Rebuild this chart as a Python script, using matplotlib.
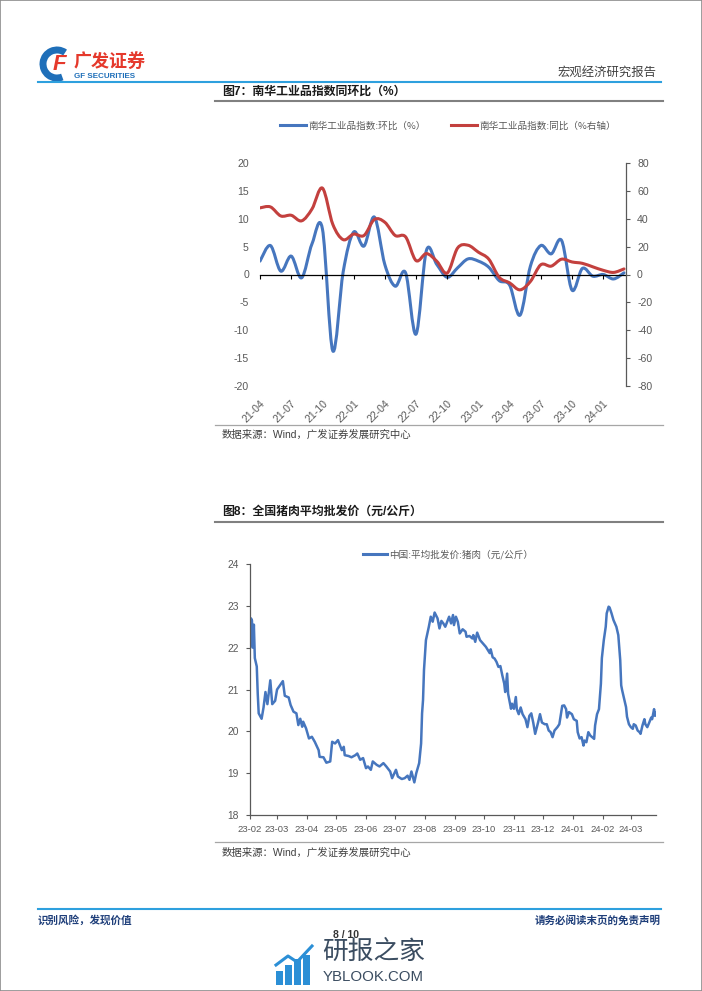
import numpy as np
import pandas as pd
import matplotlib
matplotlib.use('Agg')
import matplotlib.pyplot as plt
import matplotlib.dates as mdates
from matplotlib.path import Path
from matplotlib.patches import PathPatch, Rectangle, Arc
from matplotlib.lines import Line2D

plt.rcParams['font.family'] = ['Liberation Sans', 'Noto Sans CJK SC', 'DejaVu Sans']
plt.rcParams['axes.unicode_minus'] = False

# ---- chart 1 data: Nanhua industrial index, monthly ----
nh_months = ['21-04', '21-05', '21-06', '21-07', '21-08', '21-09', '21-10', '21-11', '21-12',
             '22-01', '22-02', '22-03', '22-04', '22-05', '22-06', '22-07', '22-08', '22-09',
             '22-10', '22-11', '22-12', '23-01', '23-02', '23-03', '23-04', '23-05', '23-06',
             '23-07', '23-08', '23-09', '23-10', '23-11', '23-12', '24-01', '24-02', '24-03']
nh_mom = [2.4, 5.2, 0.6, 3.3, -0.6, 5.5, 8.2, -13.7, 0.5, 7.6, 5.1, 10.3, 1.8, -2.1, 0.3, -10.7,
          4.3, 1.8, -0.5, 1.2, 2.8, 2.4, 1.3, -1.1, -1.9, -7.3, 1.5, 5.2, 3.7, 6.1, -2.8, 1.1,
          -0.3, 0.0, -0.8, 0.3]
nh_yoy = [47.8, 48.5, 42, 42.5, 38.5, 47, 62, 36, 25, 29, 28, 39.5, 37.5, 28, 27, 10, 15, 9.5,
          1, 19, 21, 16, 11, -2, -6, -11, -5, 7, 6, 11, 9, 8, 5.5, 3, 1.5, 4]
nh_ticklabels = ['21-04', '21-07', '21-10', '22-01', '22-04', '22-07', '22-10', '23-01',
                 '23-04', '23-07', '23-10', '24-01']

# ---- chart 2 data: pork wholesale price, yuan/kg ----
pork_dates = [
    '2023-02-01', '2023-02-02', '2023-02-03', '2023-02-04', '2023-02-05', '2023-02-06', '2023-02-08',
    '2023-02-09', '2023-02-10', '2023-02-13', '2023-02-15', '2023-02-17', '2023-02-19', '2023-02-22',
    '2023-02-24', '2023-02-27', '2023-03-01', '2023-03-04', '2023-03-07', '2023-03-09', '2023-03-13',
    '2023-03-15', '2023-03-18', '2023-03-21', '2023-03-23', '2023-03-25', '2023-03-27', '2023-03-28',
    '2023-03-31', '2023-04-03', '2023-04-06', '2023-04-09', '2023-04-13', '2023-04-14', '2023-04-18',
    '2023-04-21', '2023-04-25', '2023-04-27', '2023-04-30', '2023-05-03', '2023-05-05', '2023-05-07',
    '2023-05-09', '2023-05-10', '2023-05-14', '2023-05-17', '2023-05-21', '2023-05-23', '2023-05-26',
    '2023-05-29', '2023-06-01', '2023-06-03', '2023-06-06', '2023-06-08', '2023-06-12', '2023-06-15',
    '2023-06-19', '2023-06-22', '2023-06-26', '2023-06-28', '2023-07-02', '2023-07-04', '2023-07-08',
    '2023-07-11', '2023-07-14', '2023-07-16', '2023-07-18', '2023-07-21', '2023-07-23', '2023-07-26',
    '2023-07-28', '2023-07-29', '2023-07-30', '2023-07-31', '2023-08-02', '2023-08-05', '2023-08-07',
    '2023-08-09', '2023-08-11', '2023-08-14', '2023-08-16', '2023-08-18', '2023-08-20', '2023-08-22',
    '2023-08-24', '2023-08-26', '2023-08-28', '2023-08-30', '2023-08-31', '2023-09-02', '2023-09-04',
    '2023-09-06', '2023-09-09', '2023-09-12', '2023-09-13', '2023-09-16', '2023-09-19', '2023-09-20',
    '2023-09-22', '2023-09-24', '2023-09-27', '2023-10-03', '2023-10-07', '2023-10-08', '2023-10-10',
    '2023-10-12', '2023-10-14', '2023-10-16', '2023-10-18', '2023-10-20', '2023-10-22', '2023-10-23',
    '2023-10-25', '2023-10-26', '2023-10-29', '2023-10-30', '2023-11-01', '2023-11-03', '2023-11-04',
    '2023-11-06', '2023-11-08', '2023-11-10', '2023-11-13', '2023-11-15', '2023-11-17', '2023-11-19',
    '2023-11-21', '2023-11-23', '2023-11-26', '2023-11-28', '2023-11-30', '2023-12-03', '2023-12-05',
    '2023-12-07', '2023-12-09', '2023-12-11', '2023-12-13', '2023-12-16', '2023-12-18', '2023-12-21',
    '2023-12-23', '2023-12-25', '2023-12-26', '2023-12-28', '2023-12-31', '2024-01-02', '2024-01-05',
    '2024-01-06', '2024-01-08', '2024-01-10', '2024-01-12', '2024-01-13', '2024-01-15', '2024-01-17',
    '2024-01-19', '2024-01-21', '2024-01-23', '2024-01-24', '2024-01-26', '2024-01-28', '2024-01-30',
    '2024-01-31', '2024-02-02', '2024-02-04', '2024-02-05', '2024-02-07', '2024-02-08', '2024-02-10',
    '2024-02-12', '2024-02-15', '2024-02-17', '2024-02-19', '2024-02-20', '2024-02-21', '2024-02-23',
    '2024-02-25', '2024-02-26', '2024-02-28', '2024-03-01', '2024-03-03', '2024-03-04', '2024-03-06',
    '2024-03-08', '2024-03-10', '2024-03-11', '2024-03-13', '2024-03-15', '2024-03-16', '2024-03-18',
    '2024-03-20', '2024-03-22', '2024-03-23', '2024-03-25', '2024-03-26', '2024-03-27']
pork_price = [
    22.0, 22.7, 22.65, 22.0, 22.55, 21.75, 21.55, 20.9, 20.43, 20.3, 20.57, 20.94, 20.65, 21.22,
    20.65, 20.73, 21.0, 21.1, 21.2, 20.85, 20.81, 20.63, 20.47, 20.43, 20.15, 20.3, 20.11, 20.23,
    20.07, 19.83, 19.87, 19.75, 19.55, 19.39, 19.38, 19.25, 19.28, 19.75, 19.71, 19.79, 19.67, 19.55,
    19.63, 19.43, 19.41, 19.38, 19.43, 19.47, 19.32, 19.36, 19.12, 19.16, 19.08, 19.28, 19.2, 19.16,
    19.24, 19.16, 19.04, 18.88, 19.08, 18.92, 18.86, 18.88, 18.94, 18.84, 19.04, 18.78, 19.0, 19.24,
    19.71, 20.43, 20.75, 21.47, 22.18, 22.5, 22.74, 22.62, 22.84, 22.7, 22.46, 22.64, 22.58, 22.5,
    22.62, 22.74, 22.58, 22.78, 22.54, 22.74, 22.62, 22.34, 22.44, 22.38, 22.26, 22.28, 22.22, 22.3,
    22.14, 22.36, 22.18, 22.02, 21.87, 21.96, 21.77, 21.74, 21.66, 21.54, 21.56, 21.34, 21.14, 20.94,
    21.38, 20.9, 20.54, 20.66, 20.54, 20.82, 20.53, 20.41, 20.57, 20.41, 20.29, 20.1, 20.37, 20.43,
    20.21, 19.94, 20.21, 20.41, 20.21, 20.17, 20.17, 20.02, 19.98, 19.86, 20.02, 20.1, 20.17, 20.61,
    20.62, 20.53, 20.33, 20.46, 20.41, 20.29, 20.25, 19.98, 19.83, 19.86, 19.66, 19.78, 19.74, 19.98,
    19.9, 19.86, 19.82, 20.14, 20.41, 20.53, 21.14, 21.75, 22.18, 22.5, 22.82, 22.98, 22.96, 22.82,
    22.66, 22.5, 22.3, 21.7, 21.1, 20.98, 20.78, 20.58, 20.35, 20.17, 20.1, 20.06, 20.17, 20.14,
    20.02, 19.98, 19.94, 20.14, 20.29, 20.17, 20.1, 20.21, 20.33, 20.29, 20.53, 20.37, 20.45]

blue = '#4676be'
red = '#c3403e'
grey = '#595959'

W, H = 702, 991
fig = plt.figure(figsize=(W / 100, H / 100), dpi=100)


def fx(px):
    return px / W


def fy(py):
    return 1 - py / H


def hline(y, x0, x1, color, lw):
    fig.add_artist(Line2D([fx(x0), fx(x1)], [fy(y), fy(y)], color=color, lw=lw))


def smooth_path(x, y):
    # excel-style smoothed line: bezier segments through every data point
    n = len(x)
    verts = [(x[0], y[0])]
    codes = [Path.MOVETO]
    for i in range(n - 1):
        xa, ya = (x[i - 1], y[i - 1]) if i > 0 else (x[i], y[i])
        xb, yb = (x[i + 2], y[i + 2]) if i + 2 < n else (x[i + 1], y[i + 1])
        c1 = (x[i] + (x[i + 1] - xa) / 6, y[i] + (y[i + 1] - ya) / 6)
        c2 = (x[i + 1] - (xb - x[i]) / 6, y[i + 1] - (yb - y[i]) / 6)
        verts += [c1, c2, (x[i + 1], y[i + 1])]
        codes += [Path.CURVE4] * 3
    return Path(verts, codes)


# page frame
fig.add_artist(Rectangle((0, 0), 1, 1, transform=fig.transFigure, fill=False,
                         edgecolor='#8c8c8c', lw=1.2))

###--------- header ---------###
fig.add_artist(Arc((fx(57), fy(64)), 28 / W, 28 / H, theta1=45, theta2=300,
                   transform=fig.transFigure, color='#1f6fb9', lw=5))
fig.text(fx(59), fy(64), 'F', color='#e5392c', fontsize=16, fontweight='bold',
         fontstyle='italic', ha='center', va='center')
fig.text(fx(74), fy(61), '广发证券', color='#e5392c', fontsize=13, fontweight='bold',
         ha='left', va='center', family=['Noto Sans CJK SC'])
fig.text(fx(74), fy(76), 'GF SECURITIES', color='#1f6fb9', fontsize=5.8, fontweight='bold',
         ha='left', va='center')
fig.text(fx(657), fy(72), '宏观经济研究报告', color='#404040', fontsize=8.9,
         ha='right', va='center', family=['Noto Sans CJK SC'])
hline(82, 38, 661, '#2ea0de', 1.5)

###--------- chart 1 ---------###
fig.text(fx(222), fy(92), '图7：南华工业品指数同环比（%）', fontsize=8.6, fontweight='bold',
         ha='left', va='center', color='#1a1a1a')
hline(101, 215, 663, '#808080', 1.5)

idx = np.arange(len(nh_months))
ax1 = fig.add_axes([fx(260), fy(386), (626 - 260) / W, (386 - 163) / H])
ax1.set_xlim(0, (len(nh_months) - 1) * 366 / 364)
ax1.set_ylim(-20, 20)
ax1.set_yticks(range(-20, 21, 5))
for s in ['top', 'right', 'left']:
    ax1.spines[s].set_visible(False)
ax1.spines['bottom'].set_position(('data', 0))
ax1.spines['bottom'].set_color('black')
ax1.spines['bottom'].set_linewidth(0.9)
ax1.set_xticks(idx[::3])
ax1.tick_params(axis='x', length=3, direction='out', color='black', labelbottom=False)
ax1.tick_params(axis='y', length=0, pad=8, labelsize=7.6, labelcolor=grey)
ax1.add_patch(PathPatch(smooth_path(idx, nh_mom), fill=False, edgecolor=blue, lw=2.2,
                        capstyle='round', joinstyle='round'))

sec = ax1.secondary_xaxis(0)
sec.set_xticks(idx[::3], labels=nh_ticklabels)
sec.spines['bottom'].set_visible(False)
sec.tick_params(length=0, pad=9, labelsize=7.6, labelcolor=grey)
for lbl in sec.get_xticklabels():
    lbl.set_rotation(45)
    lbl.set_ha('right')
    lbl.set_rotation_mode('anchor')

ax2 = ax1.twinx()
ax2.set_ylim(-80, 80)
ax2.set_yticks(range(-80, 81, 20))
for s in ['top', 'bottom', 'left']:
    ax2.spines[s].set_visible(False)
ax2.spines['right'].set_color(grey)
ax2.spines['right'].set_linewidth(0.9)
ax2.tick_params(axis='y', length=3, direction='out', color=grey, labelcolor=grey,
                labelsize=7.6, pad=5)
ax2.add_patch(PathPatch(smooth_path(idx, nh_yoy), fill=False, edgecolor=red, lw=2.2,
                        capstyle='round', joinstyle='round'))

fig.legend(handles=[Line2D([], [], color=blue, lw=2.2), Line2D([], [], color=red, lw=2.2)],
           labels=['南华工业品指数:环比（%）', '南华工业品指数:同比（%右轴）'],
           loc='center', bbox_to_anchor=(fx(448), fy(126)), ncol=2, frameon=False,
           prop={'family': ['Noto Sans CJK SC'], 'size': 6.9}, labelcolor=grey,
           handlelength=2.7, handletextpad=0.3, columnspacing=2.6)

hline(425, 215, 663, '#a6a6a6', 0.9)
fig.text(fx(222), fy(435), '数据来源：Wind，广发证券发展研究中心', fontsize=7.5, color='#404040',
         ha='left', va='center')

###--------- chart 2 ---------###
fig.text(fx(222), fy(512), '图8：全国猪肉平均批发价（元/公斤）', fontsize=8.6, fontweight='bold',
         ha='left', va='center', color='#1a1a1a')
hline(522, 215, 663, '#808080', 1.5)

dates = pd.to_datetime(pork_dates)
ax3 = fig.add_axes([fx(250), fy(815), (656 - 250) / W, (815 - 564) / H])
ax3.plot(dates, pork_price, color=blue, lw=1.8)
ax3.set_xlim(dates[0], dates[-1])
ax3.set_ylim(18, 24)
ax3.set_yticks(range(18, 25))
ax3.xaxis.set_major_locator(mdates.MonthLocator())
ax3.xaxis.set_major_formatter(mdates.DateFormatter('%y-%m'))
for s in ['top', 'right']:
    ax3.spines[s].set_visible(False)
for s in ['left', 'bottom']:
    ax3.spines[s].set_color(grey)
    ax3.spines[s].set_linewidth(0.9)
ax3.tick_params(length=3, direction='out', color=grey, labelcolor=grey)
ax3.tick_params(axis='x', pad=4, labelsize=6.8)
ax3.tick_params(axis='y', pad=5, labelsize=7.4)

fig.legend(handles=[Line2D([], [], color=blue, lw=2.2)],
           labels=['中国:平均批发价:猪肉（元/公斤）'],
           loc='center', bbox_to_anchor=(fx(448), fy(555)), frameon=False,
           prop={'family': ['Noto Sans CJK SC'], 'size': 6.9}, labelcolor=grey,
           handlelength=2.5, handletextpad=0.3)

hline(842, 215, 663, '#a6a6a6', 0.9)
fig.text(fx(222), fy(853), '数据来源：Wind，广发证券发展研究中心', fontsize=7.5, color='#404040',
         ha='left', va='center')

###--------- footer ---------###
hline(909, 38, 661, '#2ea0de', 1.5)
fig.text(fx(38), fy(920), '识别风险，发现价值', fontsize=7.6, color='#1f3f7a', fontweight='bold',
         ha='left', va='center', family=['Noto Sans CJK SC'])
fig.text(fx(661), fy(920), '请务必阅读末页的免责声明', fontsize=7.6, color='#1f3f7a',
         fontweight='bold', ha='right', va='center', family=['Noto Sans CJK SC'])
fig.text(fx(346), fy(935), '8 / 10', fontsize=7.5, color='#333333', fontweight='bold',
         ha='center', va='center')

# watermark logo
for bx, bh in [(276, 14), (285, 20), (294, 26), (303, 30)]:
    fig.add_artist(Rectangle((fx(bx), fy(985)), 7 / W, bh / H, transform=fig.transFigure,
                             color='#2b8fd6', lw=0))
fig.add_artist(Line2D([fx(276), fx(288), fx(297), fx(312)], [fy(965), fy(956), fy(962), fy(946)],
                      color='#2b8fd6', lw=2.2))
fig.text(fx(322), fy(952), '研报之家', fontsize=18.5, color='#3b4d61', ha='left', va='center',
         family=['Noto Sans CJK SC'])
fig.text(fx(323), fy(977), 'YBLOOK.COM', fontsize=10.8, color='#3b4d61', ha='left', va='center')

fig.savefig('out.png', dpi=100)
